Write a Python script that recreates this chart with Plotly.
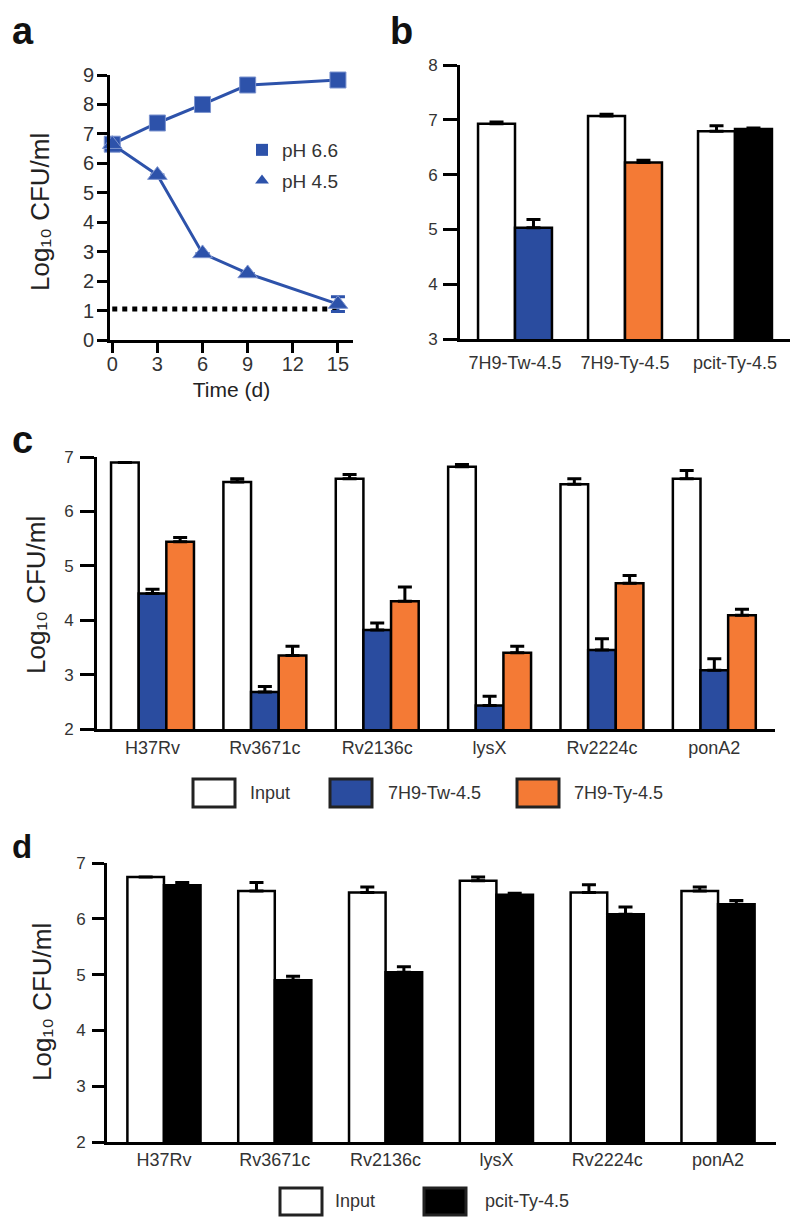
import plotly.graph_objects as go

# ---------------- data ----------------
a_time = [0, 3, 6, 9, 15]
a_ph66 = [6.65, 7.37, 8.0, 8.66, 8.83]
a_ph45 = [6.65, 5.6, 2.94, 2.26, 1.22]
a_ph45_err = [0, 0, 0, 0, 0.25]
a_limit_x = [0, 15]
a_limit_y = [1.05, 1.05]
a_xticks = [0, 3, 6, 9, 12, 15]
a_yticks = [0, 1, 2, 3, 4, 5, 6, 7, 8, 9]

b_labels = ["7H9-Tw-4.5", "7H9-Ty-4.5", "pcit-Ty-4.5"]
b_input = [6.93, 7.07, 6.79]
b_input_err = [0.03, 0.03, 0.10]
b_treated = [5.03, 6.22, 6.83]
b_treated_err = [0.15, 0.04, 0.02]
b_yticks = [3, 4, 5, 6, 7, 8]

c_labels = ["H37Rv", "Rv3671c", "Rv2136c", "lysX", "Rv2224c", "ponA2"]
c_input = [6.90, 6.54, 6.60, 6.82, 6.50, 6.60]
c_input_err = [0.0, 0.06, 0.08, 0.04, 0.10, 0.15]
c_tw = [4.49, 2.68, 3.82, 2.43, 3.45, 3.08]
c_tw_err = [0.08, 0.10, 0.13, 0.17, 0.21, 0.21]
c_ty = [5.44, 3.35, 4.35, 3.40, 4.68, 4.09]
c_ty_err = [0.08, 0.17, 0.26, 0.12, 0.14, 0.11]
c_yticks = [2, 3, 4, 5, 6, 7]

d_labels = ["H37Rv", "Rv3671c", "Rv2136c", "lysX", "Rv2224c", "ponA2"]
d_input = [6.75, 6.50, 6.47, 6.68, 6.47, 6.50]
d_input_err = [0.0, 0.15, 0.10, 0.07, 0.14, 0.07]
d_pcit = [6.60, 4.90, 5.04, 6.43, 6.08, 6.26]
d_pcit_err = [0.05, 0.07, 0.10, 0.03, 0.13, 0.07]
d_yticks = [2, 3, 4, 5, 6, 7]

y_title = "Log\u2081\u2080 CFU/ml"

# ---------------- style ----------------
# the page body has an 8px margin, so the figure is drawn 8px in from the window edges
OFF = 8
W, H = 800 - 2 * OFF, 1227 - 2 * OFF
BLUE_LINE = "#2d52aa"
BLUE = "#2a4c9f"
ORANGE = "#f47a35"
BLACK = "#000000"
FONT = "Liberation Sans, Arial, sans-serif"
TICKC = "#333333"


def px_x(p):
    return (p - OFF) / W


def px_y(p):
    return 1 - (p - OFF) / H


def err(arr, color="black", width=7):
    return dict(type="data", array=arr, arrayminus=[0] * len(arr), symmetric=False,
                color=color, thickness=3, width=width)


fig = go.Figure()

# ---------------- panel a ----------------
fig.add_trace(go.Scatter(
    x=a_limit_x, y=a_limit_y, mode="lines", xaxis="x", yaxis="y",
    line=dict(color="black", width=5, dash="dot"), showlegend=False, hoverinfo="skip"))
fig.add_trace(go.Scatter(
    x=a_time, y=a_ph66, mode="lines+markers", xaxis="x", yaxis="y",
    line=dict(color=BLUE_LINE, width=3),
    marker=dict(symbol="square", size=16, color=BLUE_LINE, line=dict(color="#7d94cf", width=1)),
    showlegend=False, cliponaxis=False))
fig.add_trace(go.Scatter(
    x=a_time, y=a_ph45, mode="lines+markers", xaxis="x", yaxis="y",
    line=dict(color=BLUE_LINE, width=3),
    marker=dict(symbol="triangle-up", size=17, color=BLUE_LINE, line=dict(color="#7d94cf", width=1)),
    error_y=dict(type="data", array=a_ph45_err, color=BLUE_LINE, thickness=3, width=7),
    showlegend=False, cliponaxis=False))
# legend entries for panel a
fig.add_trace(go.Scatter(x=[None], y=[None], mode="markers", xaxis="x", yaxis="y",
                         marker=dict(symbol="square", size=16, color=BLUE_LINE),
                         name="pH 6.6", legendgroup="g1"))
fig.add_trace(go.Scatter(x=[None], y=[None], mode="markers", xaxis="x", yaxis="y",
                         marker=dict(symbol="triangle-up", size=16, color=BLUE_LINE),
                         name="pH 4.5", legendgroup="g2"))

# ---------------- panel b ----------------
bw = 0.336
b_x = list(range(len(b_labels)))
fig.add_trace(go.Bar(x=b_x, y=b_input, xaxis="x2", yaxis="y2", width=bw, offset=-bw,
                     marker=dict(color="white", line=dict(color="black", width=2.5)),
                     error_y=err(b_input_err), showlegend=False))
fig.add_trace(go.Bar(x=b_x, y=b_treated, xaxis="x2", yaxis="y2", width=bw, offset=0,
                     marker=dict(color=[BLUE, ORANGE, BLACK], line=dict(color="black", width=2.5)),
                     error_y=err(b_treated_err), showlegend=False))

# ---------------- panel c ----------------
cw = 0.246
c_x = list(range(len(c_labels)))
for vals, errs, col, off in [(c_input, c_input_err, "white", -1.5 * cw),
                             (c_tw, c_tw_err, BLUE, -0.5 * cw),
                             (c_ty, c_ty_err, ORANGE, 0.5 * cw)]:
    fig.add_trace(go.Bar(x=c_x, y=vals, xaxis="x3", yaxis="y3", width=cw, offset=off,
                         marker=dict(color=col, line=dict(color="black", width=2.5)),
                         error_y=err(errs), showlegend=False))

# ---------------- panel d ----------------
dw = 0.33
d_x = list(range(len(d_labels)))
for vals, errs, col, off in [(d_input, d_input_err, "white", -dw),
                             (d_pcit, d_pcit_err, BLACK, 0)]:
    fig.add_trace(go.Bar(x=d_x, y=vals, xaxis="x4", yaxis="y4", width=dw, offset=off,
                         marker=dict(color=col, line=dict(color="black", width=2.5)),
                         error_y=err(errs), showlegend=False))


# ---------------- axes ----------------
def yax(domain_px, rng, ticks, anchor, ticklen, standoff, fs):
    return dict(domain=[px_y(domain_px[0]), px_y(domain_px[1])], range=rng, anchor=anchor,
                tickvals=ticks, showline=True, linewidth=3, linecolor="black",
                ticks="outside", ticklen=ticklen, tickwidth=3, tickcolor="black",
                showgrid=False, zeroline=False, ticklabelstandoff=standoff, automargin=False,
                tickfont=dict(family=FONT, size=fs, color=TICKC), fixedrange=True)


def xax(domain_px, rng, tickvals, ticktext, anchor, ticks, ticklen, standoff, fs):
    return dict(domain=[px_x(domain_px[0]), px_x(domain_px[1])], range=rng, anchor=anchor,
                tickvals=tickvals, ticktext=ticktext, showline=True, linewidth=3,
                linecolor="black", ticks=ticks, ticklen=ticklen, tickwidth=3,
                tickcolor="black", showgrid=False, zeroline=False, automargin=False,
                ticklabelstandoff=standoff,
                tickfont=dict(family=FONT, size=fs, color=TICKC), fixedrange=True)


layout = dict(
    template="none",
    width=W, height=H, margin=dict(l=0, r=0, t=0, b=0, pad=0, autoexpand=False),
    paper_bgcolor="white", plot_bgcolor="white", barmode="overlay",
    font=dict(family=FONT, color="#222222"),
    showlegend=True,
    legend=dict(x=px_x(242), y=px_y(131), xanchor="left", yanchor="top",
                font=dict(family=FONT, size=19, color=TICKC), bgcolor="rgba(0,0,0,0)",
                tracegroupgap=3, itemsizing="constant"),
    xaxis=xax((110, 353), [-0.15, 16.0], a_xticks, [str(t) for t in a_xticks], "y",
              "outside", 10, -6, 20),
    yaxis=yax((340, 75), [0, 9], a_yticks, "x", 10, -1, 20),
    xaxis2=xax((460, 790), [-0.5, 2.5], b_x, b_labels, "y2", "", 0, 5, 18),
    yaxis2=yax((339, 65), [3, 8], b_yticks, "x2", 14, 2, 17),
    xaxis3=xax((97, 775), [-0.494, 5.54], c_x, c_labels, "y3", "", 0, 0, 18),
    yaxis3=yax((729, 457), [2, 7], c_yticks, "x3", 14, 3, 17),
    xaxis4=xax((107, 776), [-0.514, 5.523], d_x, d_labels, "y4", "", 0, -1, 18),
    yaxis4=yax((1142, 863), [2, 7], d_yticks, "x4", 12, 3, 17),
)
layout["xaxis"]["title"] = dict(text="Time (d)", font=dict(family=FONT, size=21, color="#222222"),
                                standoff=9)
fig.update_layout(**layout)

ann = []
# panel letters
for txt, x, y, fs in [("a", 10, 31, 38), ("b", 388, 31, 38), ("c", 10, 440, 38), ("d", 10, 846, 33)]:
    ann.append(dict(text="<b>%s</b>" % txt, x=px_x(x), y=px_y(y), xref="paper", yref="paper",
                    xanchor="left", yanchor="middle", showarrow=False,
                    font=dict(family=FONT, size=fs, color="#111111")))
# y titles
for x, y in [(40, 212), (36, 595), (42, 1002)]:
    ann.append(dict(text=y_title, x=px_x(x), y=px_y(y), xref="paper",
                    yref="paper", textangle=-90, xanchor="center", yanchor="middle",
                    showarrow=False, font=dict(family=FONT, size=26, color="#222222")))

shapes = []
# legend panel c
for x0, col, label, tx in [(193, "white", "Input", 248), (330, BLUE, "7H9-Tw-4.5", 386),
                           (517, ORANGE, "7H9-Ty-4.5", 572)]:
    shapes.append(dict(type="rect", xref="paper", yref="paper", x0=px_x(x0), x1=px_x(x0 + 42),
                       y0=px_y(807), y1=px_y(779), fillcolor=col,
                       line=dict(color="#222222", width=3)))
    ann.append(dict(text=label, x=px_x(tx), y=px_y(793), xref="paper", yref="paper",
                    xanchor="left", yanchor="middle", showarrow=False,
                    font=dict(family=FONT, size=18, color=TICKC)))
# legend panel d
for x0, col, label, tx in [(280, "white", "Input", 333), (424, BLACK, "pcit-Ty-4.5", 483)]:
    shapes.append(dict(type="rect", xref="paper", yref="paper", x0=px_x(x0), x1=px_x(x0 + 42),
                       y0=px_y(1215), y1=px_y(1188), fillcolor=col,
                       line=dict(color="#222222", width=3)))
    ann.append(dict(text=label, x=px_x(tx), y=px_y(1201), xref="paper", yref="paper",
                    xanchor="left", yanchor="middle", showarrow=False,
                    font=dict(family=FONT, size=18, color=TICKC)))

fig.update_layout(annotations=ann, shapes=shapes)
fig.write_html("out.html")
